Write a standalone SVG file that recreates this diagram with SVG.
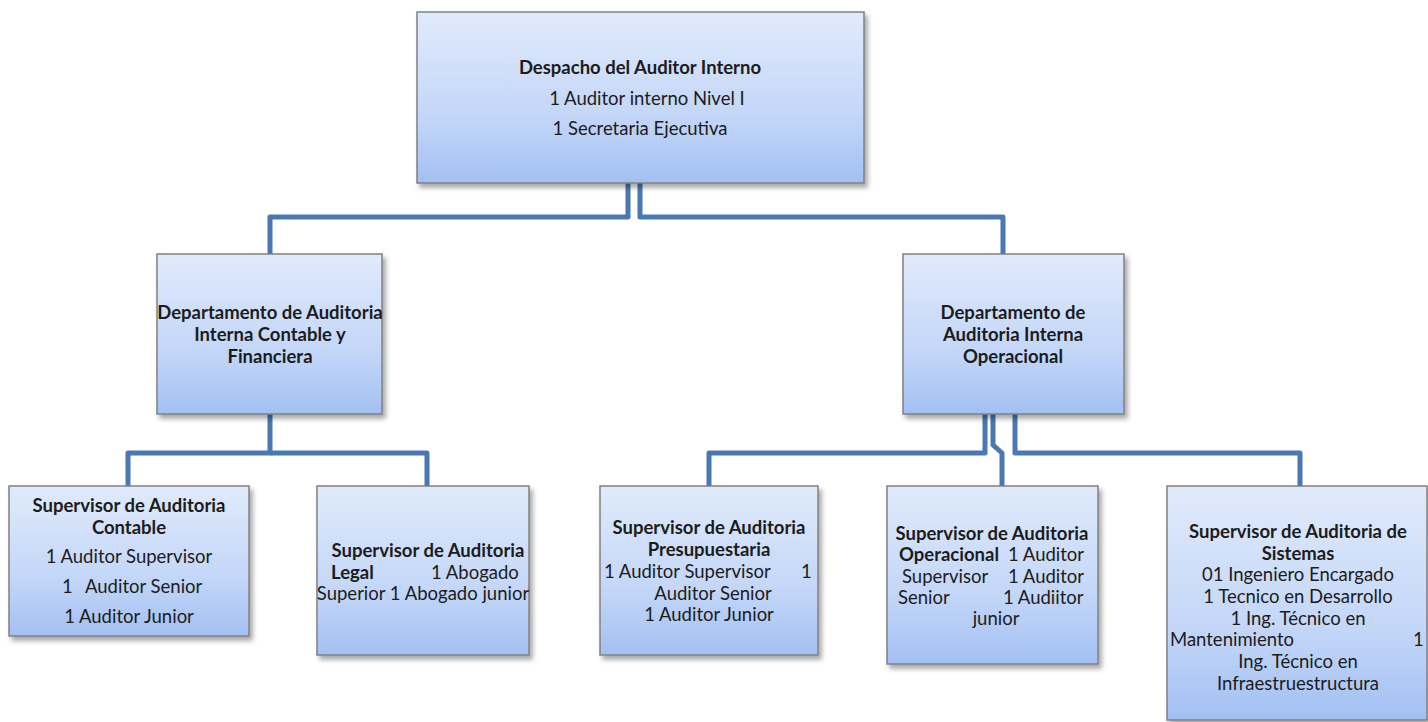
<svg xmlns="http://www.w3.org/2000/svg" width="1428" height="722" viewBox="0 0 1428 722">
<defs>
<linearGradient id="g" x1="0" y1="0" x2="0" y2="1">
<stop offset="0" stop-color="#e0eafb"/>
<stop offset="0.6" stop-color="#c4d7f8"/>
<stop offset="1" stop-color="#a3c0f2"/>
</linearGradient>
<filter id="sh" x="-10%" y="-10%" width="125%" height="125%">
<feDropShadow dx="3" dy="4" stdDeviation="2.5" flood-color="#000" flood-opacity="0.35"/>
</filter>
</defs>
<style>
.box{fill:url(#g);stroke:#808080;stroke-width:1.5;filter:url(#sh)}
.c{fill:none;stroke:#4a78b2;stroke-width:5;stroke-linejoin:round}
text{font-family:Lato,"Open Sans","Liberation Sans",sans-serif;font-size:18.5px;fill:#1c1c1c}
.m{text-anchor:middle}
.b{font-weight:bold}
</style>
<rect width="1428" height="722" fill="#ffffff"/>
<g id="connectors">
<path class="c" d="M628 183 V217 H270 V254"/>
<path class="c" d="M640 183 V217 H1003 V254"/>
<path class="c" d="M270 414 V453 H128 V487"/>
<path class="c" d="M270 453 H427 V487"/>
<path class="c" d="M985 414 V453 H709 V487"/>
<path class="c" d="M993 414 V445 L1002 453 V487"/>
<path class="c" d="M1015 414 V453 H1300 V487"/>
</g>
<g id="n_despacho">
<rect class="box" x="417" y="12" width="447" height="171"/>
<text class="m b" x="640" y="74">Despacho del Auditor Interno</text>
<text class="m" x="647" y="105">1 Auditor interno Nivel I</text>
<text class="m" x="640" y="135">1 Secretaria Ejecutiva</text>
</g>
<g id="n_contable_fin">
<rect class="box" x="157" y="254" width="225" height="160"/>
<text class="m b" x="270" y="319">Departamento de Auditoria</text>
<text class="m b" x="270" y="341">Interna Contable y</text>
<text class="m b" x="270" y="363">Financiera</text>
</g>
<g id="n_operacional_dep">
<rect class="box" x="903" y="254" width="221" height="160"/>
<text class="m b" x="1013" y="319">Departamento de</text>
<text class="m b" x="1013" y="341">Auditoria Interna</text>
<text class="m b" x="1013" y="363">Operacional</text>
</g>
<g id="n_sup_contable">
<rect class="box" x="9" y="486" width="240" height="150"/>
<text class="m b" x="129" y="512">Supervisor de Auditoria</text>
<text class="m b" x="129" y="534">Contable</text>
<text class="m" x="129" y="563">1 Auditor Supervisor</text>
<text x="62" y="593">1</text>
<text x="85" y="593">Auditor Senior</text>
<text class="m" x="129" y="623">1 Auditor Junior</text>
</g>
<g id="n_sup_legal">
<rect class="box" x="317" y="486" width="212" height="169"/>
<text class="m b" x="428" y="557">Supervisor de Auditoria</text>
<text class="b" x="331" y="579">Legal</text>
<text x="431" y="579">1 Abogado</text>
<text class="m" x="423" y="600">Superior 1 Abogado junior</text>
</g>
<g id="n_sup_presup">
<rect class="box" x="600" y="486" width="218" height="169"/>
<text class="m b" x="709" y="534">Supervisor de Auditoria</text>
<text class="m b" x="709" y="556">Presupuestaria</text>
<text x="604" y="578">1 Auditor Supervisor</text>
<text x="801" y="578">1</text>
<text class="m" x="713" y="600">Auditor Senior</text>
<text class="m" x="709" y="621">1 Auditor Junior</text>
</g>
<g id="n_sup_operacional">
<rect class="box" x="887" y="486" width="211" height="178"/>
<text class="m b" x="992" y="540">Supervisor de Auditoria</text>
<text class="b" x="899" y="561">Operacional</text>
<text x="1008" y="561">1 Auditor</text>
<text x="902" y="583">Supervisor</text>
<text x="1008" y="583">1 Auditor</text>
<text x="898" y="604">Senior</text>
<text x="1003" y="604">1 Audiitor</text>
<text class="m" x="996" y="625">junior</text>
</g>
<g id="n_sup_sistemas">
<rect class="box" x="1167" y="486" width="260" height="234"/>
<text class="m b" x="1298" y="538">Supervisor de Auditoria de</text>
<text class="m b" x="1298" y="560">Sistemas</text>
<text class="m" x="1298" y="581">01 Ingeniero Encargado</text>
<text class="m" x="1298" y="603">1 Tecnico en Desarrollo</text>
<text class="m" x="1298" y="625">1 Ing. Técnico en</text>
<text x="1170" y="646">Mantenimiento</text>
<text x="1413" y="646">1</text>
<text class="m" x="1298" y="668">Ing. Técnico en</text>
<text class="m" x="1298" y="690">Infraestruestructura</text>
</g>
</svg>
